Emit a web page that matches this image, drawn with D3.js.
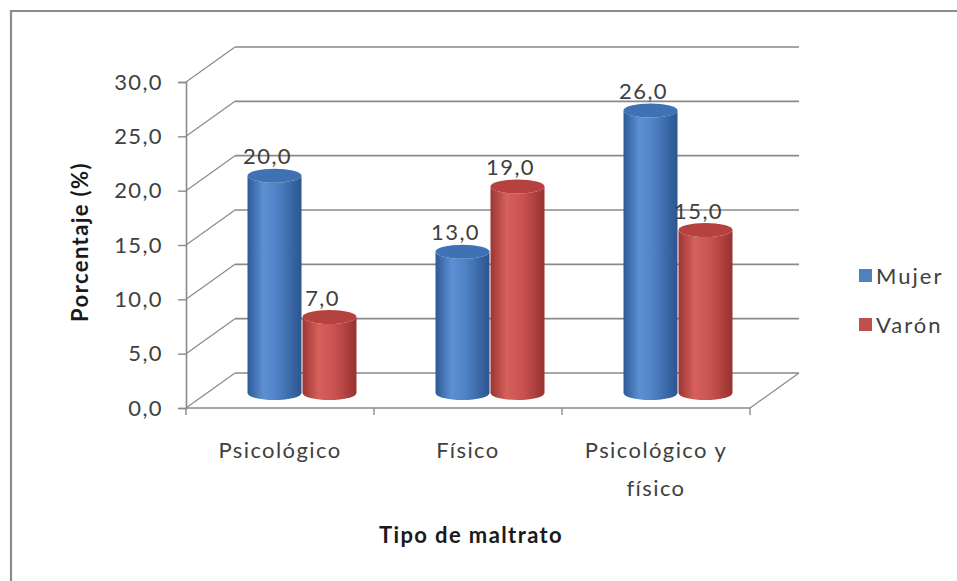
<!DOCTYPE html>
<html><head><meta charset="utf-8">
<script src="https://cdn.jsdelivr.net/npm/d3@7"></script>
<style>body{margin:0;background:#fff}svg{display:block}</style>
</head><body><svg id="c" width="957" height="581"></svg>
<script>
const categories = [["Psicológico"], ["Físico"], ["Psicológico y", "físico"]];
const categoryKeys = ["Psicológico", "Físico", "Psicológico y físico"];
const seriesNames = ["Mujer", "Varón"];
const mujer = [20.0, 13.0, 26.0];
const varon = [7.0, 19.0, 15.0];
const yTicks = [0, 5, 10, 15, 20, 25, 30];
const colors = {Mujer: "#4f81bd", Varón: "#c0504d"};

const svg = d3.select("#c");
const FONT = "Lato, 'Open Sans', sans-serif";
const LS = 1.4;

// border (left + top)
svg.append("path").attr("d", "M11,581 L11,11 L957,11").attr("fill", "none")
  .attr("stroke", "#8c8c8c").attr("stroke-width", 2.2);

const y = d3.scaleLinear().domain([0, 30]).range([408, 82]);
const x = d3.scaleBand().domain(categoryKeys).range([186, 750]);
const DX = 49, DY = -35; // depth of the 3D box
const grid = "#8a8a8a";

// back wall gridlines + diagonals
yTicks.forEach(t => {
  svg.append("line").attr("x1", x.range()[0] + DX).attr("x2", x.range()[1] + DX)
    .attr("y1", y(t) + DY).attr("y2", y(t) + DY).attr("stroke", grid).attr("stroke-width", 1.6);
  svg.append("line").attr("x1", x.range()[0]).attr("x2", x.range()[0] + DX)
    .attr("y1", y(t)).attr("y2", y(t) + DY).attr("stroke", grid).attr("stroke-width", 1.2);
});
// floor front edge and right diagonal
svg.append("line").attr("x1", x.range()[0]).attr("x2", x.range()[1]).attr("y1", y(0)).attr("y2", y(0))
  .attr("stroke", grid).attr("stroke-width", 1.6);
svg.append("line").attr("x1", x.range()[1]).attr("x2", x.range()[1] + DX).attr("y1", y(0)).attr("y2", y(0) + DY)
  .attr("stroke", grid).attr("stroke-width", 1.2);

// y axis
const yAxis = svg.append("g").attr("transform", `translate(${x.range()[0]},0)`)
  .call(d3.axisLeft(y).tickValues(yTicks).tickSize(8).tickPadding(15)
    .tickFormat(d => d3.format(".1f")(d).replace(".", ",")));
yAxis.select(".domain").attr("stroke", grid).attr("stroke-width", 1.6);
yAxis.selectAll(".tick line").attr("stroke", grid).attr("stroke-width", 1.4);
yAxis.selectAll(".tick text").attr("font-family", FONT).attr("font-size", 22)
  .attr("letter-spacing", LS).attr("fill", "#404040");

// x axis ticks
const xEdges = [x.range()[0]].concat(categoryKeys.map(c => x(c) + x.bandwidth()));
xEdges.forEach(e => svg.append("line").attr("x1", e).attr("x2", e).attr("y1", y(0)).attr("y2", y(0) + 7)
  .attr("stroke", grid).attr("stroke-width", 1.4));
categories.forEach((lines, i) => {
  const t = svg.append("text").attr("x", x(categoryKeys[i]) + x.bandwidth() / 2).attr("y", 458)
    .attr("text-anchor", "middle").attr("font-family", FONT).attr("font-size", 22)
    .attr("letter-spacing", LS).attr("fill", "#404040");
  lines.forEach((l, j) => t.append("tspan").attr("x", x(categoryKeys[i]) + x.bandwidth() / 2)
    .attr("dy", j === 0 ? 0 : 38).text(l));
});

// gradients
const defs = svg.append("defs");
function grad(id, stops) {
  const g = defs.append("linearGradient").attr("id", id).attr("x1", 0).attr("x2", 1).attr("y1", 0).attr("y2", 0);
  stops.forEach(s => g.append("stop").attr("offset", s[0]).attr("stop-color", s[1]));
}
grad("gMujer", [[0, "#2d5a97"], [0.3, "#5d90d3"], [0.55, "#4f82c6"], [1, "#2b5590"]]);
grad("gVarón", [[0, "#9c3633"], [0.3, "#d6605c"], [0.6, "#c8524f"], [1, "#983230"]]);
const capColor = {Mujer: "#3f72b4", Varón: "#b5423f"};

// cylinders
const MID_DX = 22, MID_DY = -15;
const xs = d3.scaleBand().domain(seriesNames).range([-55, 55]);
const rows = [];
categoryKeys.forEach((c, i) => {
  rows.push({cat: c, s: "Mujer", v: mujer[i]});
  rows.push({cat: c, s: "Varón", v: varon[i]});
});
const RY = 7;
rows.forEach(d => {
  const cx0 = x(d.cat) + x.bandwidth() / 2 + MID_DX + xs(d.s);
  const w = xs.bandwidth() - 1;
  const l = cx0 + 0.5, r = cx0 + 0.5 + w, rx = w / 2, cx = (l + r) / 2;
  const base = y(0) + MID_DY, top = y(d.v) + MID_DY;
  svg.append("path")
    .attr("d", `M${l},${top} L${l},${base} A${rx},${RY} 0 0 0 ${r},${base} L${r},${top} A${rx},${RY} 0 0 1 ${l},${top} Z`)
    .attr("fill", `url(#g${d.s})`);
  svg.append("ellipse").attr("cx", cx).attr("cy", top).attr("rx", rx).attr("ry", RY).attr("fill", capColor[d.s]);
  svg.append("text").attr("x", cx - 7).attr("y", top - 19).attr("dy", "0.35em").attr("text-anchor", "middle")
    .attr("font-family", FONT).attr("font-size", 22).attr("letter-spacing", LS).attr("fill", "#404040")
    .text(d3.format(".1f")(d.v).replace(".", ","));
});

// axis titles
svg.append("text").attr("transform", "translate(80,242) rotate(-90)").attr("text-anchor", "middle")
  .attr("dy", "0.35em").attr("font-family", FONT).attr("font-weight", "bold").attr("font-size", 22)
  .attr("letter-spacing", LS).attr("fill", "#1a1a1a").text("Porcentaje (%)");
svg.append("text").attr("x", 471).attr("y", 543).attr("text-anchor", "middle")
  .attr("font-family", FONT).attr("font-weight", "bold").attr("font-size", 22)
  .attr("letter-spacing", LS).attr("fill", "#1a1a1a").text("Tipo de maltrato");

// legend
seriesNames.forEach((s, i) => {
  const ly = 276 + i * 49;
  svg.append("rect").attr("x", 859).attr("y", ly - 7).attr("width", 13).attr("height", 13).attr("fill", colors[s]);
  svg.append("text").attr("x", 876).attr("y", ly).attr("dy", "0.35em").attr("font-family", FONT)
    .attr("font-size", 22).attr("letter-spacing", 2).attr("fill", "#404040").text(s);
});
</script></body></html>
